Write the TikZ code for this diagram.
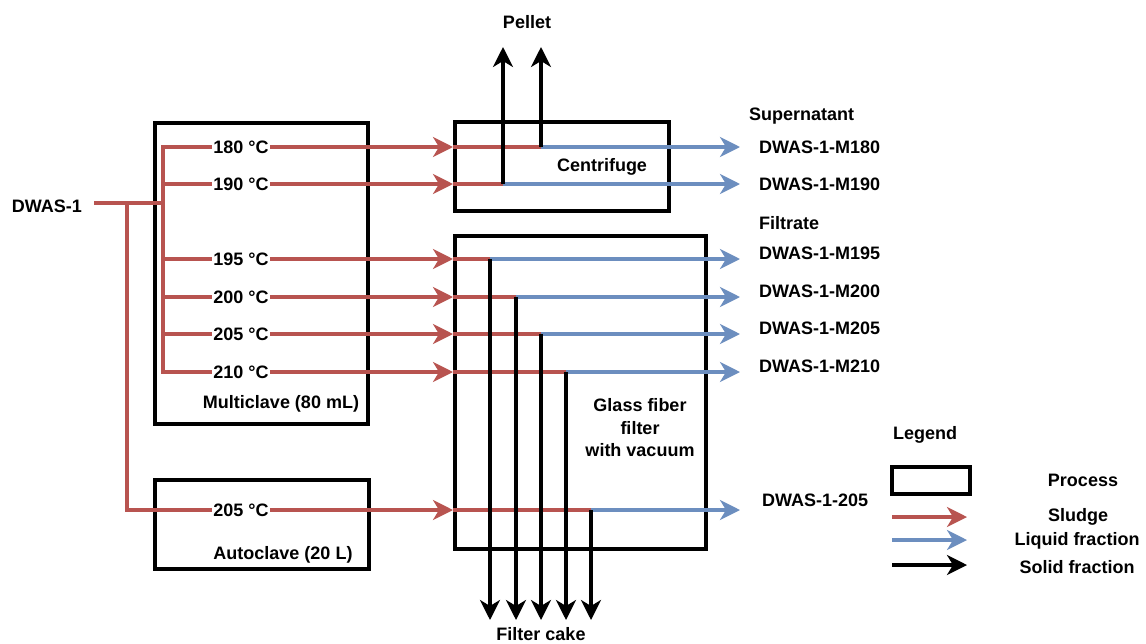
\documentclass[tikz,border=0pt]{standalone}
\usepackage{fontspec}
\setmainfont{Liberation Sans}
\usetikzlibrary{arrows.meta}
\definecolor{sludge}{HTML}{B85450}
\definecolor{liquid}{HTML}{6C8EBF}
\begin{document}
\begin{tikzpicture}[x=1pt,y=-1pt,
  box/.style={draw=black, line width=4pt, inner sep=0pt, anchor=north west},
  lbl/.style={font=\fontsize{18}{22.5}\bfseries\selectfont, inner sep=1pt, text=black},
  tip/.style={-{Stealth[length=20pt,width=20pt,inset=6pt]}},
  sl/.style={draw=sludge, line width=3.2pt},
  lq/.style={draw=liquid, line width=3.2pt},
  so/.style={draw=black, line width=3.2pt},
]
\useasboundingbox (0,0) rectangle (1146,643);
% process boxes
\node[box, minimum width=213pt, minimum height=301pt] (multi) at (153,121) {};
\node[box, minimum width=214pt, minimum height=89pt] (centri) at (453,120) {};
\node[box, minimum width=251pt, minimum height=313pt] (filter) at (453,234) {};
\node[box, minimum width=214pt, minimum height=89pt] (auto) at (153,478) {};
% box labels
\node[lbl] (lmulti) at (281,404) {Multiclave (80 mL)};
\node[lbl] (lcentri) at (602,167) {Centrifuge};
\node[lbl, align=center] (lfilter) at (640,428) {Glass fiber\\filter\\with vacuum};
\node[lbl] (lauto) at (283,555) {Autoclave (20 L)};
% source
\node[lbl] (dwas) at (47,206) {DWAS-1};
\coordinate (s0) at (94,203);
\coordinate (ja) at (127,203);
\coordinate (jm) at (163,203);
\coordinate (jb) at (127,510);
\coordinate (v180) at (163,147);
\coordinate (v190) at (163,184);
\coordinate (v195) at (163,259);
\coordinate (v200) at (163,297);
\coordinate (v205) at (163,334);
\coordinate (v210) at (163,372);
% temperature labels
\node[lbl] (t180) at (241,147) {180 °C};
\node[lbl] (t190) at (241,184) {190 °C};
\node[lbl] (t195) at (241,259) {195 °C};
\node[lbl] (t200) at (241,297) {200 °C};
\node[lbl] (t205) at (241,334) {205 °C};
\node[lbl] (t210) at (241,372) {210 °C};
\node[lbl] (t205a) at (241,510) {205 °C};
% inlet points
\coordinate (i180) at (453,147);
\coordinate (i190) at (453,184);
\coordinate (i195) at (453,259);
\coordinate (i200) at (453,297);
\coordinate (i205) at (453,334);
\coordinate (i210) at (453,372);
\coordinate (i205a) at (453,510);
% split points
\coordinate (k180) at (541,147);
\coordinate (k190) at (503,184);
\coordinate (k195) at (490,259);
\coordinate (k200) at (516,297);
\coordinate (k205) at (541,334);
\coordinate (k210) at (566,372);
\coordinate (k205a) at (591,510);
% outlet tips
\coordinate (o180) at (740,147);
\coordinate (o190) at (740,184);
\coordinate (o195) at (740,259);
\coordinate (o200) at (740,297);
\coordinate (o205) at (740,334);
\coordinate (o210) at (740,372);
\coordinate (o205a) at (740,510);
\coordinate (p180) at (541,47);
\coordinate (p190) at (503,47);
\coordinate (f195) at (490,620);
\coordinate (f200) at (516,620);
\coordinate (f205) at (541,620);
\coordinate (f210) at (566,620);
\coordinate (f205a) at (591,620);
% sludge lines
\draw[sl] (s0) -- (jm);
\draw[sl] (t180.west) -- (v180) -- (v210) -- (t210.west);
\draw[sl] (v190) -- (t190.west);
\draw[sl] (v195) -- (t195.west);
\draw[sl] (v200) -- (t200.west);
\draw[sl] (v205) -- (t205.west);
\draw[sl] (ja) -- (jb) -- (t205a.west);
\foreach \n in {180,190,195,200,205,210,205a}{
  \draw[sl,tip] (t\n.east) -- (i\n);
  \draw[sl] (i\n) -- (k\n);
  \draw[lq,tip] (k\n) -- (o\n);
}
% solid fractions
\draw[so,tip] (k180) -- (p180);
\draw[so,tip] (k190) -- (p190);
\foreach \n in {195,200,205,210,205a}{
  \draw[so,tip] (k\n) -- (f\n);
}
% output labels
\node[lbl] (pellet) at (527,22) {Pellet};
\node[lbl] (cake) at (541,634) {Filter cake};
\node[lbl, anchor=west] (super) at (748,116) {Supernatant};
\node[lbl, anchor=west] (m180) at (758,147) {DWAS-1-M180};
\node[lbl, anchor=west] (m190) at (758,184) {DWAS-1-M190};
\node[lbl, anchor=west] (filt) at (758,223) {Filtrate};
\node[lbl, anchor=west] (m195) at (758,253) {DWAS-1-M195};
\node[lbl, anchor=west] (m200) at (758,291) {DWAS-1-M200};
\node[lbl, anchor=west] (m205) at (758,328) {DWAS-1-M205};
\node[lbl, anchor=west] (m210) at (758,366) {DWAS-1-M210};
\node[lbl, anchor=west] (a205) at (761,500) {DWAS-1-205};
% legend
\node[lbl] (legend) at (925,435) {Legend};
\node[box, minimum width=78pt, minimum height=27pt] (lgbox) at (890,465) {};
\node[lbl] (lproc) at (1083,480) {Process};
\coordinate (ls0) at (892,517);
\coordinate (ls1) at (967,517);
\coordinate (ll0) at (892,540);
\coordinate (ll1) at (967,540);
\coordinate (lo0) at (892,565);
\coordinate (lo1) at (967,565);
\draw[sl,tip] (ls0) -- (ls1);
\draw[lq,tip] (ll0) -- (ll1);
\draw[so,tip] (lo0) -- (lo1);
\node[lbl] (lsl) at (1078,517) {Sludge};
\node[lbl] (llq) at (1077,541) {Liquid fraction};
\node[lbl] (lso) at (1077,567) {Solid fraction};
\end{tikzpicture}
\end{document}
